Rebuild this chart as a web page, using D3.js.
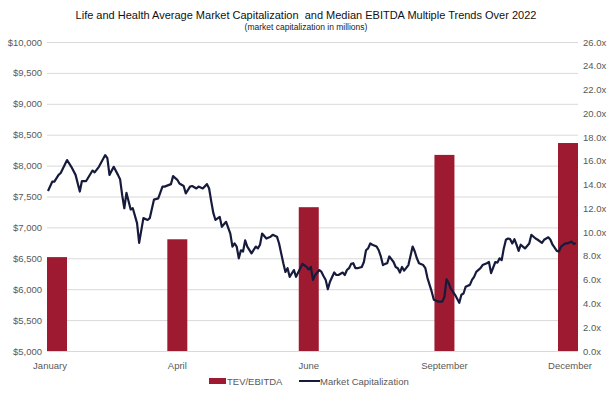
<!DOCTYPE html>
<html>
<head>
<meta charset="utf-8">
<script src="https://cdn.jsdelivr.net/npm/d3@7"></script>
<style>
  body { margin: 0; background: #fff; }
  svg { font-family: "Liberation Sans", Arial, sans-serif; }
  .title { white-space: pre; }
</style>
</head>
<body>
<script>
"use strict";

// quarterly TEV/EBITDA (trading-day index of quarter end)
const quarterDays = [0, 61, 123, 187, 250];
const quarterLabels = ["January", "April", "June", "September", "December"];
const tevEbitda = [7.9, 9.4, 12.1, 16.5, 17.5];

// market cap (trading day of 2022, $ millions)
const capDays = [0, 2, 3, 5, 6, 9, 11, 13, 15, 16, 18, 21, 22, 24, 27, 28, 29, 31, 33, 34,
  35, 36, 37, 39, 40, 42, 43, 45, 47, 48, 50, 52, 54, 55, 58, 59, 61, 62, 64, 65,
  67, 68, 70, 71, 73, 75, 76, 77, 78, 79, 81, 82, 84, 86, 87, 88, 89, 90, 91, 92,
  93, 94, 96, 98, 99, 100, 101, 103, 105, 106, 108, 109, 111, 112, 113, 114, 116, 117, 119, 120,
  122, 123, 124, 125, 126, 128, 129, 130, 131, 132, 133, 135, 136, 137, 139, 140, 141, 142, 143, 144,
  145, 146, 148, 149, 150, 151, 152, 153, 155, 156, 157, 158, 159, 160, 161, 163, 164, 165, 166, 167,
  168, 170, 172, 173, 174, 175, 177, 178, 179, 181, 182, 184, 186, 187, 188, 189, 190, 192, 194, 195,
  196, 197, 199, 200, 201, 202, 204, 205, 207, 208, 209, 211, 212, 213, 214, 215, 216, 217, 218, 219,
  220, 221, 222, 223, 224, 225, 227, 228, 230, 231, 233, 234, 236, 237, 238, 240, 241, 242, 244, 245,
  247, 248, 249];
const capValues = [7590, 7740, 7740, 7850, 7880, 8090, 7980, 7850, 7580, 7750, 7750, 7920, 7890, 7980, 8170, 8120, 7850, 7980, 7850, 7780,
  7520, 7310, 7560, 7290, 7310, 7070, 6750, 7150, 7120, 7150, 7450, 7470, 7660, 7660, 7700, 7830, 7770, 7710, 7670, 7550,
  7660, 7670, 7630, 7660, 7630, 7700, 7630, 7420, 7230, 7120, 7170, 7010, 7090, 6900, 6690, 6740, 6690, 6500, 6630, 6610,
  6790, 6690, 6580, 6690, 6660, 6720, 6900, 6820, 6850, 6880, 6850, 6740, 6420, 6280, 6340, 6200, 6310, 6200, 6340, 6410,
  6360, 6320, 6360, 6150, 6230, 6310, 6280, 6210, 6150, 6000, 6120, 6270, 6230, 6230, 6270, 6230, 6310, 6340, 6410, 6420,
  6340, 6340, 6360, 6440, 6630, 6660, 6740, 6720, 6690, 6630, 6530, 6390, 6410, 6420, 6530, 6440, 6360, 6340, 6270, 6360,
  6300, 6390, 6690, 6610, 6500, 6420, 6390, 6340, 6180, 5960, 5830, 5800, 5800, 5880, 6160, 6100, 6010, 5910, 5780, 5910,
  5930, 6040, 6070, 6150, 6200, 6280, 6340, 6390, 6420, 6440, 6260, 6440, 6430, 6500, 6470, 6660, 6800, 6820, 6810, 6740,
  6810, 6720, 6620, 6720, 6690, 6660, 6740, 6880, 6820, 6800, 6750, 6800, 6840, 6800, 6720, 6620, 6610, 6690, 6740, 6740,
  6770, 6730, 6750];

const leftTicks = d3.range(5000, 10001, 500);
const rightTicks = d3.range(0, 26.1, 2);

const w = 612;
const h = 396;
const plotLeft = 47;
const plotRight = 578;
const plotTop = 42;
const plotBottom = 351;
const barWidth = 20;

const barColor = "#9e1a30";
const lineColor = "#161b3b";
const textColor = "#595959";
const gridColor = "#d9d9d9";

const svg = d3.select("body").append("svg").attr("width", w).attr("height", h);

const x = d3.scaleLinear().domain([0, 250]).range([48, plotRight]);
const yLeft = d3.scaleLinear().domain([5000, 10000]).range([plotBottom, plotTop]);
const yRight = d3.scaleLinear().domain([0, 26]).range([plotBottom, plotTop]);

//Title
svg.append("text")
  .attr("class", "title")
  .attr("x", 306)
  .attr("y", 19)
  .attr("text-anchor", "middle")
  .attr("font-size", 11)
  .attr("fill", "#111")
  .text("Life and Health Average Market Capitalization  and Median EBITDA Multiple Trends Over 2022");

svg.append("text")
  .attr("x", 306)
  .attr("y", 30)
  .attr("text-anchor", "middle")
  .attr("font-size", 8.5)
  .attr("fill", "#222")
  .text("(market capitalization in millions)");

//Left axis with gridlines
svg.append("g")
  .attr("transform", `translate(${plotLeft}, 0)`)
  .call(d3.axisLeft(yLeft).tickValues(leftTicks).tickFormat((d) => "$" + d3.format(",")(d)).tickSize(-(plotRight - plotLeft)).tickPadding(5))
  .call((g) => g.select(".domain").remove())
  .call((g) => g.selectAll(".tick line").attr("stroke", gridColor).attr("stroke-width", 1))
  .call((g) => g.selectAll(".tick text").attr("fill", textColor).attr("font-size", 9.5).attr("font-family", "Liberation Sans, Arial, sans-serif"));

//Right axis
svg.append("g")
  .attr("transform", `translate(${plotRight}, 0)`)
  .call(d3.axisRight(yRight).tickValues(rightTicks).tickFormat((d) => d3.format(".1f")(d) + "x").tickSize(0).tickPadding(5))
  .call((g) => g.select(".domain").remove())
  .call((g) => g.selectAll(".tick text").attr("fill", textColor).attr("font-size", 9.5).attr("font-family", "Liberation Sans, Arial, sans-serif"));

//Bars
svg.selectAll("rect.bar")
  .data(tevEbitda)
  .enter()
  .append("rect")
  .attr("class", "bar")
  .attr("x", (d, i) => Math.max(plotLeft, Math.min(x(quarterDays[i]) - barWidth / 2, plotRight - barWidth)))
  .attr("y", (d) => yRight(d))
  .attr("width", barWidth)
  .attr("height", (d) => plotBottom - yRight(d))
  .attr("fill", barColor);

//Market cap line
const capData = capDays.map((d, i) => ({ day: d, value: capValues[i] }));
const line = d3.line().x((d) => x(d.day)).y((d) => yLeft(d.value));

svg.append("path")
  .datum(capData)
  .attr("d", line)
  .attr("fill", "none")
  .attr("stroke", lineColor)
  .attr("stroke-width", 2.2)
  .attr("stroke-linejoin", "round");

//Category labels
svg.selectAll("text.cat")
  .data(quarterLabels)
  .enter()
  .append("text")
  .attr("class", "cat")
  .attr("x", (d, i) => Math.max(50, Math.min(x(quarterDays[i]), 570)))
  .attr("y", 369)
  .attr("text-anchor", "middle")
  .attr("font-size", 9.5)
  .attr("fill", textColor)
  .text((d) => d);

//Legend
const legend = svg.append("g").attr("transform", "translate(0, 381)");
legend.append("rect").attr("x", 209).attr("y", -3).attr("width", 17).attr("height", 6).attr("fill", barColor);
legend.append("text").attr("x", 227).attr("y", 3.5).attr("font-size", 9.5).attr("fill", textColor).text("TEV/EBITDA");
legend.append("line").attr("x1", 299).attr("x2", 320).attr("y1", 0).attr("y2", 0).attr("stroke", lineColor).attr("stroke-width", 2);
legend.append("text").attr("x", 320).attr("y", 3.5).attr("font-size", 9.5).attr("fill", textColor).text("Market Capitalization");
</script>
</body>
</html>
